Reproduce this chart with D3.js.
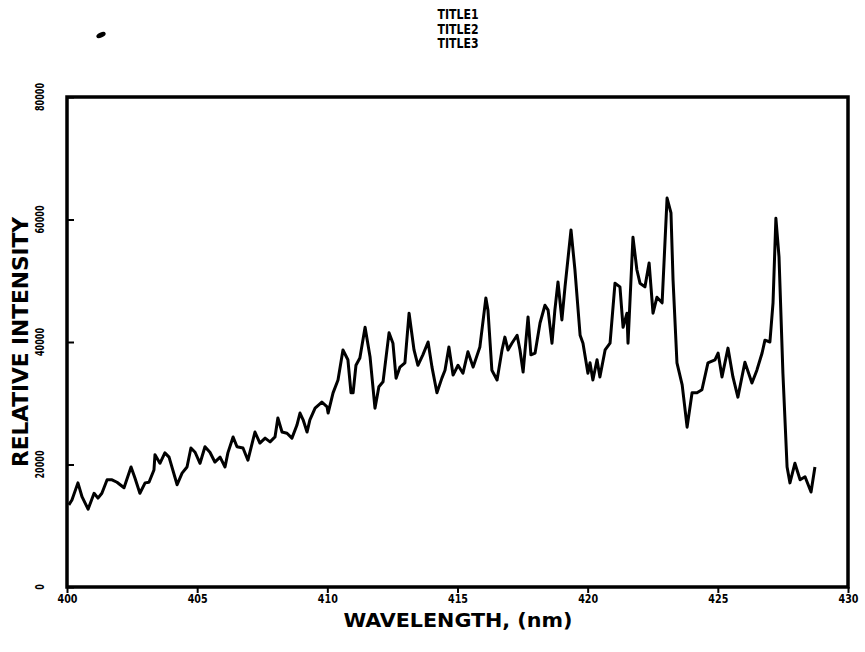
<!DOCTYPE html>
<html>
<head>
<meta charset="utf-8">
<script src="https://cdn.jsdelivr.net/npm/d3@7"></script>
<style>
  html, body { margin: 0; padding: 0; background: #fff; }
  svg text { font-family: "DejaVu Sans Condensed", "DejaVu Sans", "Liberation Sans", sans-serif; font-weight: bold; fill: #000; }
</style>
</head>
<body>
<svg id="chart" width="865" height="652"></svg>
<script>
// spectrum: wavelength (nm) and relative intensity
const wavelength = [
  400.07, 400.19, 400.42, 400.58, 400.81, 401.04, 401.19, 401.34, 401.54, 401.73,
  401.92, 402.19, 402.46, 402.61, 402.80, 403.00, 403.15, 403.34, 403.38, 403.57,
  403.76, 403.92, 404.23, 404.42, 404.61, 404.76, 404.92, 405.11, 405.30, 405.49,
  405.68, 405.88, 406.07, 406.18, 406.38, 406.53, 406.76, 406.95, 407.22, 407.41,
  407.61, 407.80, 407.99, 408.10, 408.26, 408.45, 408.64, 408.83, 408.95, 409.07,
  409.22, 409.33, 409.53, 409.79, 409.99, 410.03, 410.22, 410.41, 410.60, 410.79,
  410.91, 410.99, 411.10, 411.25, 411.45, 411.64, 411.83, 411.98, 412.14, 412.37,
  412.52, 412.64, 412.79, 412.98, 413.14, 413.33, 413.48, 413.67, 413.87, 414.02,
  414.21, 414.40, 414.52, 414.67, 414.83, 415.02, 415.21, 415.40, 415.60, 415.86,
  416.09, 416.17, 416.32, 416.52, 416.71, 416.82, 416.94, 417.09, 417.29, 417.40,
  417.52, 417.71, 417.82, 417.98, 418.17, 418.36, 418.48, 418.63, 418.74, 418.86,
  419.01, 419.13, 419.36, 419.51, 419.71, 419.82, 420.01, 420.09, 420.20, 420.36,
  420.47, 420.67, 420.86, 421.05, 421.24, 421.36, 421.51, 421.55, 421.74, 421.89,
  422.01, 422.20, 422.36, 422.51, 422.66, 422.86, 423.05, 423.20, 423.28, 423.43,
  423.63, 423.82, 424.01, 424.20, 424.39, 424.62, 424.89, 425.01, 425.16, 425.39,
  425.58, 425.77, 426.04, 426.31, 426.50, 426.70, 426.81, 427.00, 427.12, 427.23,
  427.35, 427.50, 427.66, 427.77, 427.96, 428.16, 428.35, 428.58, 428.73
];
const intensity = [
  13400, 14200, 17000, 14700, 12700, 15300, 14500, 15300, 17500, 17500,
  17100, 16200, 19600, 17800, 15300, 17000, 17100, 19100, 21600, 20200,
  21900, 21200, 16700, 18600, 19600, 22700, 22000, 20200, 22900, 22000,
  20400, 21200, 19600, 21900, 24500, 22900, 22700, 20700, 25300, 23500,
  24300, 23700, 24500, 27600, 25300, 25100, 24300, 26400, 28400, 27300,
  25300, 27300, 29200, 30200, 29400, 28400, 31700, 33800, 38700, 37100,
  31700, 31700, 36200, 37400, 42400, 37600, 29200, 32700, 33500, 41500,
  39800, 34100, 35900, 36600, 44700, 38700, 36200, 37900, 40000, 35900,
  31700, 34100, 35400, 39200, 34600, 36200, 34900, 38400, 35900, 39200,
  47200, 45200, 35400, 33800, 38700, 40800, 38700, 39800, 41100, 38700,
  35100, 44100, 37900, 38200, 43100, 46000, 45200, 39800, 45200, 49800,
  43600, 49000, 58300, 51800, 41100, 39800, 34900, 36600, 33800, 37100,
  34300, 38700, 39800, 49600, 49000, 42400, 44700, 39800, 57100, 51800,
  49600, 49000, 52900, 44700, 47300, 46400, 63500, 61100, 50100, 36600,
  33000, 26100, 31700, 31700, 32200, 36600, 37100, 38200, 34300, 39000,
  34300, 31000, 36700, 33300, 35400, 38200, 40300, 40000, 46400, 60200,
  53900, 34900, 19600, 17000, 20200, 17500, 18000, 15500, 19600
];

const xTicks = [400, 405, 410, 415, 420, 425, 430];
const yTicks = [0, 20000, 40000, 60000, 80000];
const titles = ['TITLE1', 'TITLE2', 'TITLE3'];

const svg = d3.select('#chart');
const plotLeft = 67, plotRight = 848, plotTop = 97, plotBottom = 587;

const x = d3.scaleLinear().domain([400, 430]).range([plotLeft, plotRight]);
const y = d3.scaleLinear().domain([0, 80000]).range([plotBottom, plotTop]);

// titles, stacked and squeezed like the plotter lettering
svg.append('g')
  .selectAll('text')
  .data(titles)
  .join('text')
  .attr('x', 458)
  .attr('y', (d, i) => 19 + i * 14.5)
  .attr('text-anchor', 'middle')
  .attr('font-size', 14)
  .attr('textLength', 41)
  .attr('lengthAdjust', 'spacingAndGlyphs')
  .text(d => d);

// small scan blot in the corner
svg.append('ellipse')
  .attr('cx', 101).attr('cy', 35)
  .attr('rx', 5).attr('ry', 2.5)
  .attr('transform', 'rotate(-25,101,35)')
  .attr('fill', '#000');

// x axis: short ticks pointing down
const xAxis = svg.append('g')
  .attr('transform', `translate(0,${plotBottom})`)
  .call(d3.axisBottom(x).tickValues(xTicks).tickSize(6).tickPadding(1).tickFormat(d3.format('d')));
xAxis.select('.domain').remove();
xAxis.selectAll('line').attr('stroke', '#000').attr('stroke-width', 2);
xAxis.selectAll('text')
  .attr('font-size', 12)
  .attr('font-family', null)
  .attr('textLength', 20)
  .attr('lengthAdjust', 'spacingAndGlyphs');

// y axis: ticks pointing into the plot, labels rotated
const yAxis = svg.append('g')
  .attr('transform', `translate(${plotLeft},0)`)
  .call(d3.axisRight(y).tickValues(yTicks).tickSize(7).tickFormat(d3.format('d')));
yAxis.select('.domain').remove();
yAxis.selectAll('line').attr('stroke', '#000').attr('stroke-width', 2);
yAxis.selectAll('text').remove();

svg.append('g')
  .selectAll('text')
  .data(yTicks)
  .join('text')
  .attr('transform', d => `translate(44,${y(d)}) rotate(-90)`)
  .attr('text-anchor', 'middle')
  .attr('font-size', 12)
  .attr('textLength', d => String(d).length * 5.6)
  .attr('lengthAdjust', 'spacingAndGlyphs')
  .text(d => d);

// frame
svg.append('rect')
  .attr('x', plotLeft).attr('y', plotTop)
  .attr('width', plotRight - plotLeft).attr('height', plotBottom - plotTop)
  .attr('fill', 'none')
  .attr('stroke', '#000')
  .attr('stroke-width', 3.5);

// spectrum
const pts = wavelength.map((w, i) => [w, intensity[i]]);
svg.append('path')
  .datum(pts)
  .attr('fill', 'none')
  .attr('stroke', '#000')
  .attr('stroke-width', 3)
  .attr('stroke-linejoin', 'round')
  .attr('d', d3.line().x(d => x(d[0])).y(d => y(d[1])));

// axis titles
svg.append('text')
  .attr('x', 458).attr('y', 627)
  .attr('text-anchor', 'middle')
  .attr('font-size', 19)
  .attr('font-weight', 'normal')
  .attr('textLength', 229)
  .attr('lengthAdjust', 'spacingAndGlyphs')
  .text('WAVELENGTH, (nm)');

svg.append('text')
  .attr('transform', 'translate(28,342) rotate(-90)')
  .attr('text-anchor', 'middle')
  .attr('font-size', 22)
  .attr('font-weight', 'normal')
  .attr('textLength', 250)
  .attr('lengthAdjust', 'spacingAndGlyphs')
  .text('RELATIVE INTENSITY');
</script>
</body>
</html>
